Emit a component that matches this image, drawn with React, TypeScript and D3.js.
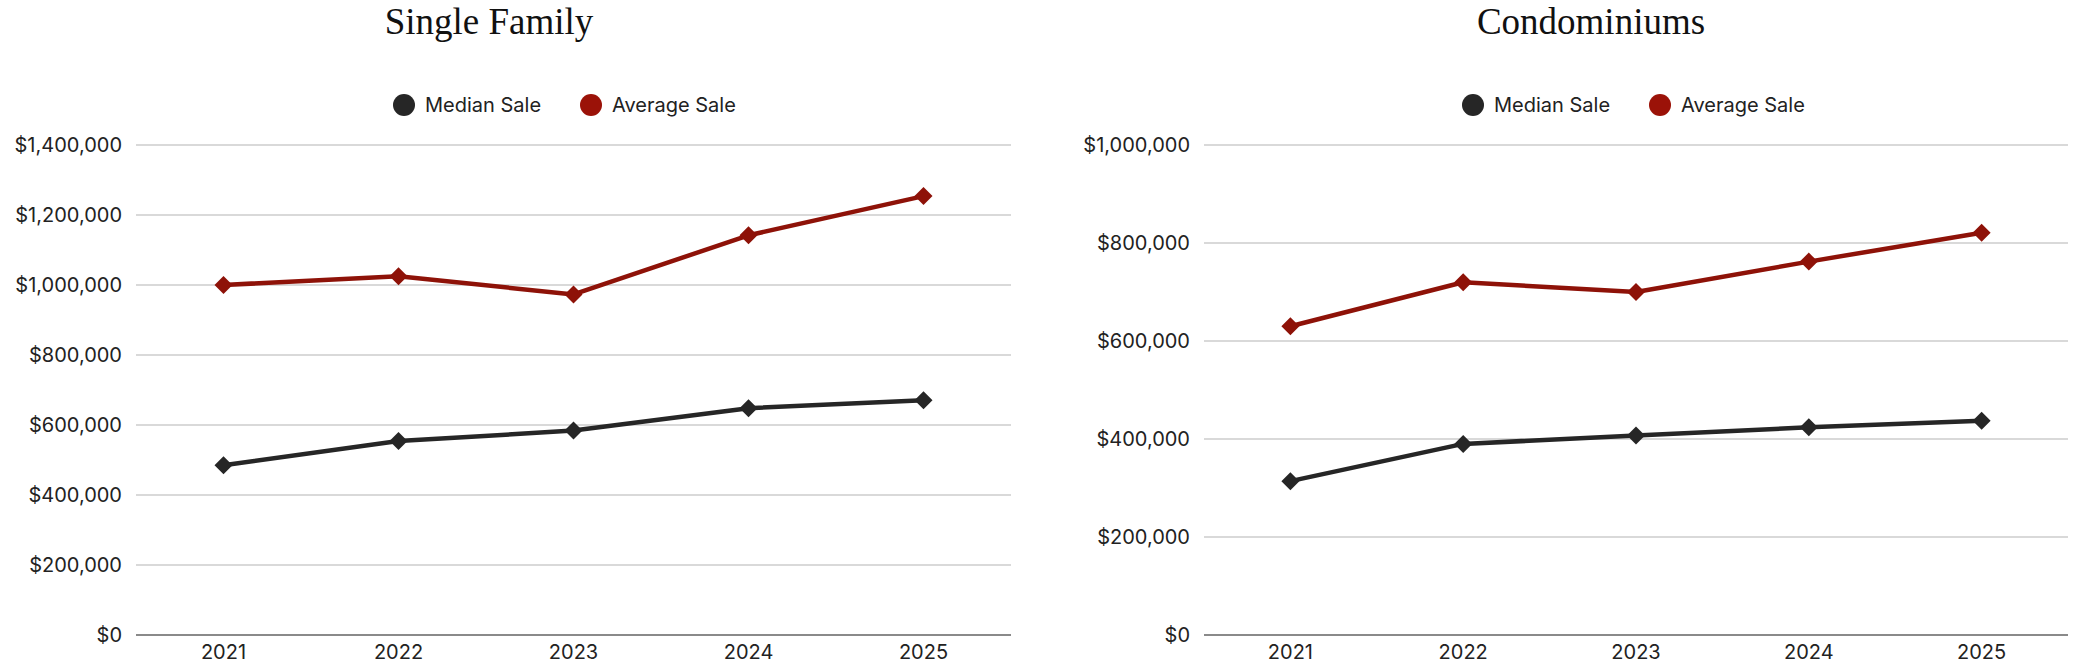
import React from "react";
import * as d3 from "d3";

const years = ["2021", "2022", "2023", "2024", "2025"];

const sfMedian = [485000, 554000, 584000, 648000, 671000];
const sfAverage = [1000000, 1025000, 973000, 1142000, 1254000];
const sfTicks = [0, 200000, 400000, 600000, 800000, 1000000, 1200000, 1400000];

const condoMedian = [314000, 390000, 407000, 424000, 437000];
const condoAverage = [630000, 720000, 700000, 762000, 821000];
const condoTicks = [0, 200000, 400000, 600000, 800000, 1000000];

const legendLabels = ["Median Sale", "Average Sale"];

const W = 2078;
const H = 665;
const MEDIAN_COLOR = "#262626";
const AVERAGE_COLOR = "#8e1208";
const SANS = "Inter, 'Noto Sans', sans-serif";
const SERIF = "'Liberation Serif', 'DejaVu Serif', serif";

const fmt = (v: number) => "$" + d3.format(",")(v);

type PanelProps = {
  title: string;
  titleX: number;
  legendX: number;
  x0: number;
  x1: number;
  median: number[];
  average: number[];
  ticks: number[];
};

function Panel({ title, titleX, legendX, x0, x1, median, average, ticks }: PanelProps) {
  const yTop = 145;
  const yBottom = 635;
  const x = d3.scaleBand<string>().domain(years).range([x0, x1]);
  const y = d3.scaleLinear().domain([0, ticks[ticks.length - 1]]).range([yBottom, yTop]);
  const cx = (yr: string) => (x(yr) as number) + x.bandwidth() / 2;
  const line = d3
    .line<number>()
    .x((_, i) => cx(years[i]))
    .y((v) => y(v));
  const diamond = (px: number, py: number, r: number) =>
    `M${px},${py - r}L${px + r},${py}L${px},${py + r}L${px - r},${py}Z`;

  const series = [
    { values: median, color: MEDIAN_COLOR },
    { values: average, color: AVERAGE_COLOR },
  ];

  return (
    <g>
      <text x={titleX} y={34} textAnchor="middle" fontFamily={SERIF} fontSize={37} fill="#111">
        {title}
      </text>
      {legendLabels.map((lab, i) => (
        <g key={lab} transform={`translate(${legendX + i * 187},105)`}>
          <circle r={11} fill={i === 0 ? MEDIAN_COLOR : "#9b1208"} />
          <text x={21} y={7} fontFamily={SANS} fontSize={20} fill="#222">
            {lab}
          </text>
        </g>
      ))}
      {ticks.map((t) => (
        <g key={t}>
          <line
            x1={x0}
            x2={x1}
            y1={y(t)}
            y2={y(t)}
            stroke={t === 0 ? "#8a8a8a" : "#cccccc"}
            strokeWidth={t === 0 ? 2 : 1.6}
          />
          <text
            x={x0 - 14}
            y={y(t) + 7}
            textAnchor="end"
            fontFamily={SANS}
            fontSize={20}
            fill="#222"
          >
            {fmt(t)}
          </text>
        </g>
      ))}
      {years.map((yr) => (
        <text key={yr} x={cx(yr)} y={659} textAnchor="middle" fontFamily={SANS} fontSize={20} fill="#222">
          {yr}
        </text>
      ))}
      {series.map((s, si) => (
        <g key={si}>
          <path
            d={line(s.values) as string}
            fill="none"
            stroke={s.color}
            strokeWidth={4.5}
            strokeLinejoin="round"
            strokeLinecap="round"
          />
          {s.values.map((v, i) => (
            <path key={i} d={diamond(cx(years[i]), y(v), 9)} fill={s.color} />
          ))}
        </g>
      ))}
    </g>
  );
}

export default function App() {
  return (
    <svg
      width={W}
      height={H}
      viewBox={`0 0 ${W} ${H}`}
      style={{ position: "absolute", left: 0, top: 0, background: "#fff" }}
    >
      <rect width={W} height={H} fill="#fff" />
      <Panel
        title="Single Family"
        titleX={489}
        legendX={404}
        x0={136}
        x1={1011}
        median={sfMedian}
        average={sfAverage}
        ticks={sfTicks}
      />
      <Panel
        title="Condominiums"
        titleX={1591}
        legendX={1473}
        x0={1204}
        x1={2068}
        median={condoMedian}
        average={condoAverage}
        ticks={condoTicks}
      />
    </svg>
  );
}
